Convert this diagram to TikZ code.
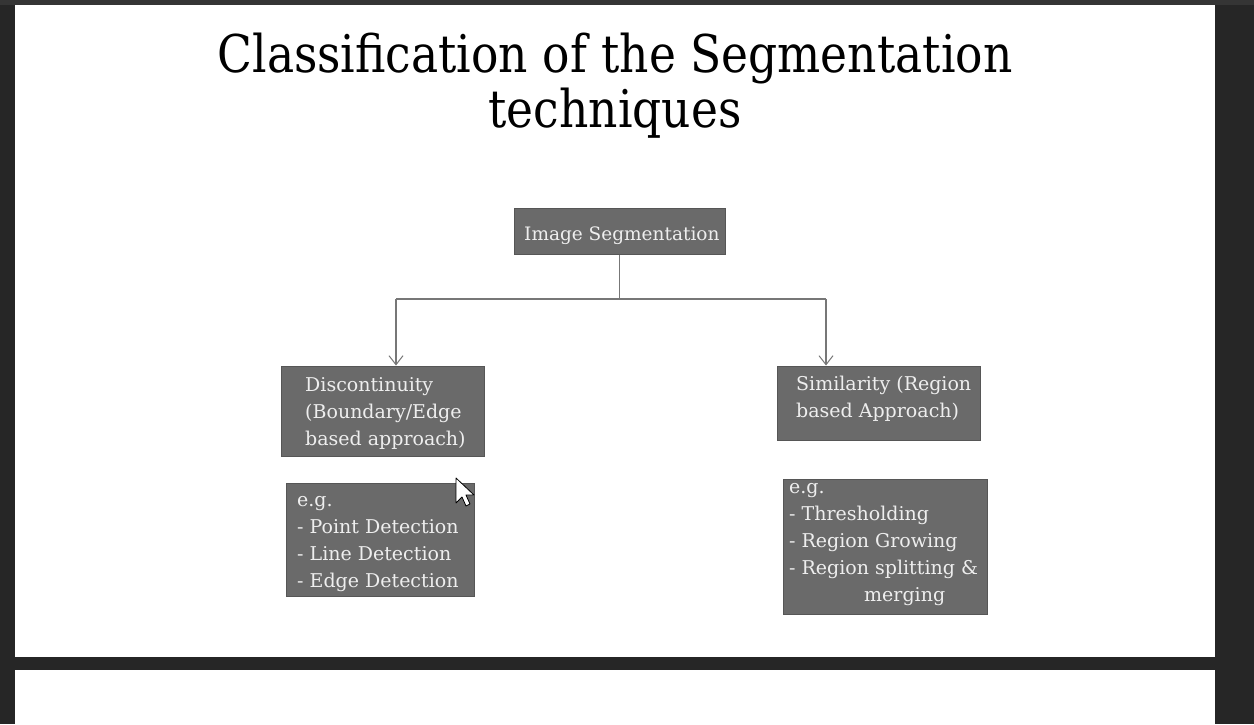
\documentclass[tikz,border=0pt]{standalone}
\usepackage{fontspec}
\setmainfont{DejaVu Serif}
\newfontfamily\titlefont[FakeStretch=0.876]{DejaVu Serif}
\usetikzlibrary{arrows.meta}
\definecolor{bgdark}{HTML}{262626}
\definecolor{bgtop}{HTML}{353535}
\definecolor{boxfill}{HTML}{6A6A6A}
\definecolor{boxline}{HTML}{565656}
\definecolor{boxtext}{HTML}{EEEEEE}
\definecolor{conn}{HTML}{777777}
\begin{document}
\begin{tikzpicture}[x=1pt,y=-1pt,
  box/.style={draw=boxline, fill=boxfill, line width=1pt, inner sep=0pt},
  txt/.style={text=boxtext, inner sep=0pt, align=left, font=\fontsize{19}{27}\selectfont},
  title/.style={text=black, inner sep=0pt, font=\titlefont\fontsize{52}{56}\selectfont},
  conn/.style={draw=conn, line width=1.1pt},
  arr/.style={conn, -{Straight Barb[length=9pt,width=14pt,line width=1pt]}}
]
\useasboundingbox (0,0) rectangle (1254,724);
\fill[bgdark] (0,0) rectangle (1254,724);
\fill[bgtop] (0,0) rectangle (1254,5);
\fill[white] (15,5) rectangle (1215,657);
\fill[white] (15,670) rectangle (1215,724);

% title
\node[title, anchor=base] (t1) at (615,72) {Classification of the Segmentation};
\node[title, anchor=base] (t2) at (615,127) {techniques};

% boxes
\node[box, minimum width=211pt, minimum height=46pt] (root) at (619.5,231) {};
\node[box, minimum width=203pt, minimum height=90pt] (disc) at (382.5,411) {};
\node[box, minimum width=203pt, minimum height=74pt] (sim) at (878.5,403) {};
\node[box, minimum width=188pt, minimum height=113pt] (eg1) at (380,539.5) {};
\node[box, minimum width=204pt, minimum height=135pt] (eg2) at (885,546.5) {};

% texts (anchor = baseline of the last line)
\node[txt, anchor=base west, font=\fontsize{18.5}{27}\selectfont] (rootT) at (524,240) {Image Segmentation};
\node[txt, anchor=base west] (discT) at (305,445) {Discontinuity\\(Boundary/Edge\\based approach)};
\node[txt, anchor=base west] (simT) at (796,417) {Similarity (Region\\based Approach)};
\node[txt, anchor=base west] (eg1T) at (297,587) {e.g.\\- Point Detection\\- Line Detection\\- Edge Detection};
\node[txt, anchor=base west] (eg2T) at (789,601) {e.g.\\- Thresholding\\- Region Growing\\- Region splitting \&\\\hspace*{75pt}merging};

% connectors
\coordinate (jn) at (619.5,299);
\coordinate (jl) at (396,299);
\coordinate (jr) at (826,299);
\draw[conn] (root.south) -- (jn);
\draw[conn] (jl) -- (jr);
\draw[arr] (jl) -- (jl |- disc.north);
\draw[arr] (jr) -- (jr |- sim.north);

% mouse cursor
\draw[black, fill=white, line width=0.8pt, line join=round]
  (456,478) -- (456,503) -- (462,497) -- (466,506) -- (470,504) -- (466,495) -- (474,495) -- cycle;
\end{tikzpicture}
\end{document}
